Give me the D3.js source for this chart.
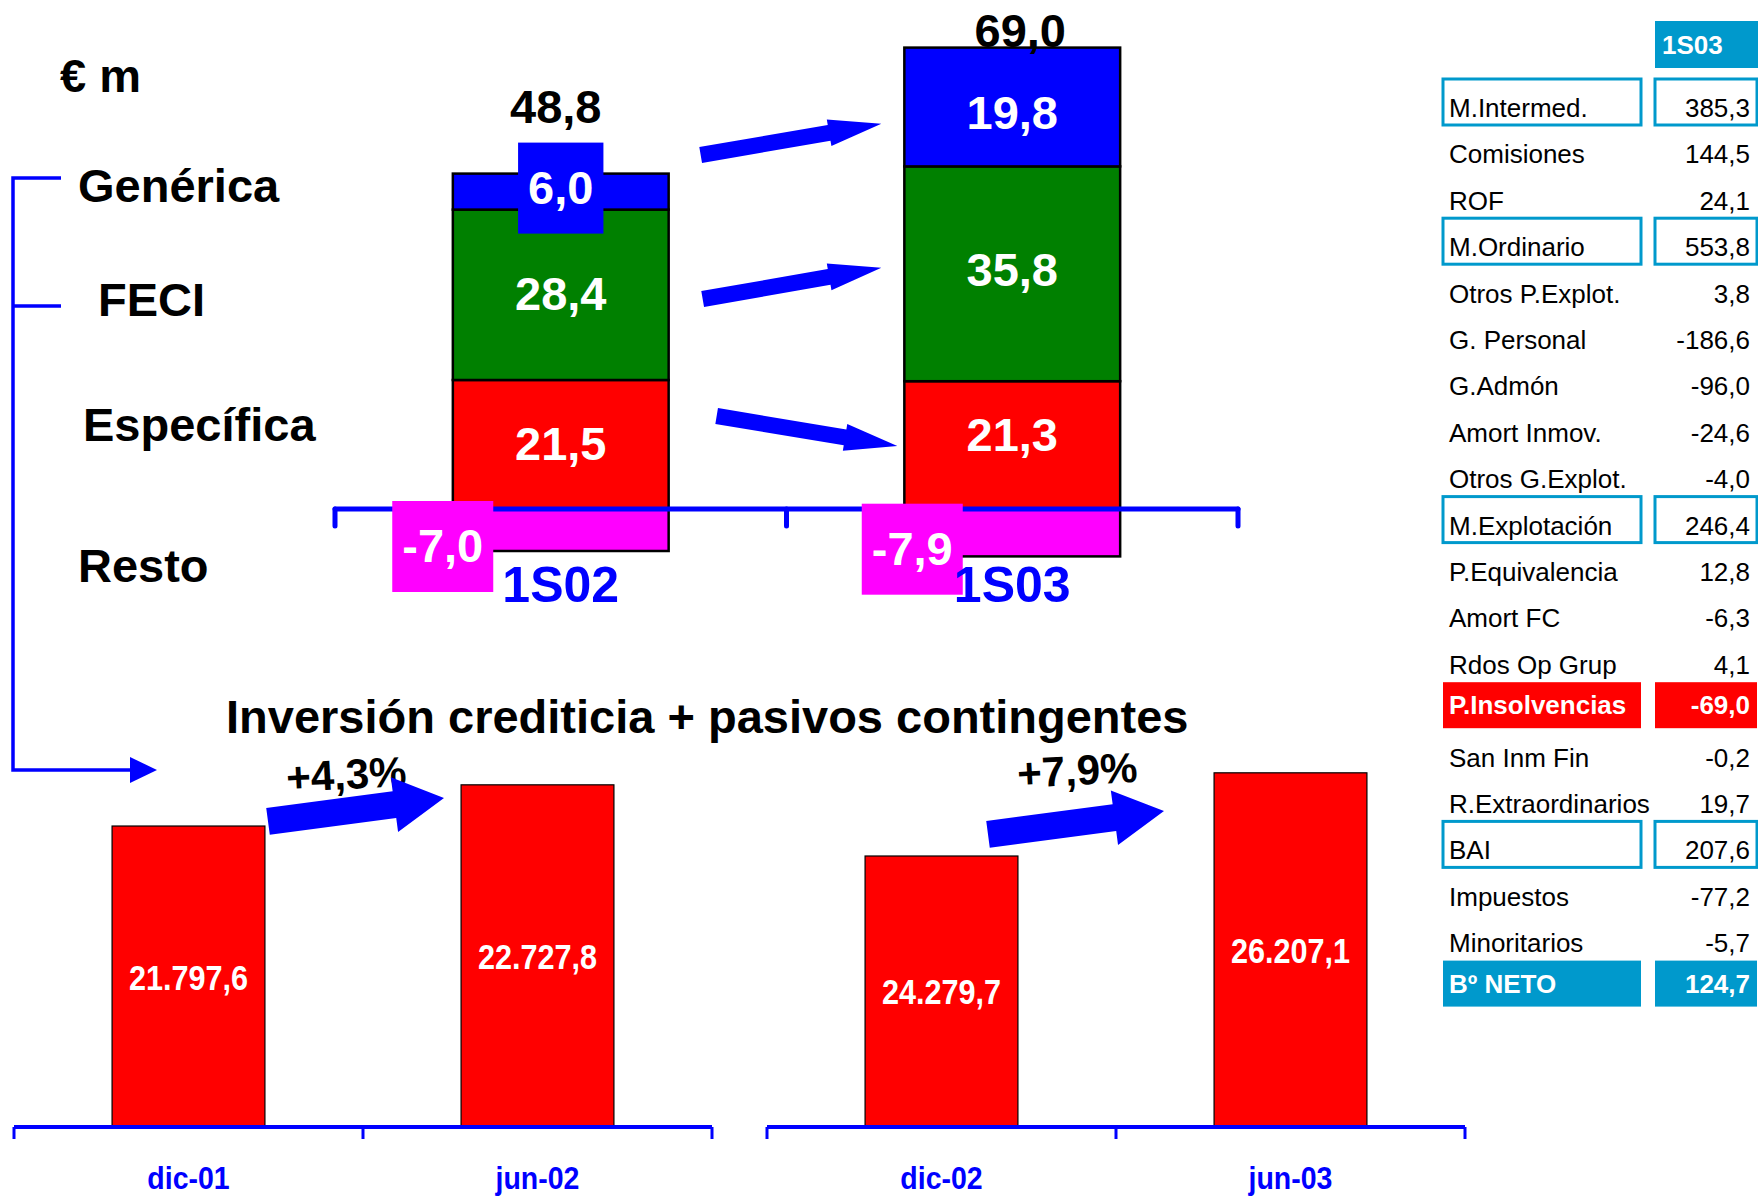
<!DOCTYPE html>
<html>
<head>
<meta charset="utf-8">
<script src="https://cdn.jsdelivr.net/npm/d3@7"></script>
<style>
  body { margin: 0; background: #fff; }
  svg { display: block; font-family: 'Liberation Sans', Arial, sans-serif; }
</style>
</head>
<body>
<script>
// provisiones por insolvencias, stacked by type
const periods = ['1S02', '1S03']
const generica = [6.0, 19.8]
const feci = [28.4, 35.8]
const especifica = [21.5, 21.3]
const resto = [-7.0, -7.9]
const totals = [48.8, 69.0]

// inversion crediticia + pasivos contingentes
const loanDatesA = ['dic-01', 'jun-02']
const loanValuesA = [21797.6, 22727.8]
const loanGrowthA = 4.3
const loanDatesB = ['dic-02', 'jun-03']
const loanValuesB = [24279.7, 26207.1]
const loanGrowthB = 7.9

// cuenta de resultados
const tableHeader = '1S03'
const tableLabels = ['M.Intermed.', 'Comisiones', 'ROF', 'M.Ordinario', 'Otros P.Explot.',
  'G. Personal', 'G.Admón', 'Amort Inmov.', 'Otros G.Explot.', 'M.Explotación',
  'P.Equivalencia', 'Amort FC', 'Rdos Op Grup', 'P.Insolvencias', 'San Inm Fin',
  'R.Extraordinarios', 'BAI', 'Impuestos', 'Minoritarios', 'Bº NETO']
const tableValues = [385.3, 144.5, 24.1, 553.8, 3.8, -186.6, -96.0, -24.6, -4.0, 246.4,
  12.8, -6.3, 4.1, -69.0, -0.2, 19.7, 207.6, -77.2, -5.7, 124.7]
const subtotalRows = ['M.Intermed.', 'M.Ordinario', 'M.Explotación', 'BAI']
const provisionRow = 'P.Insolvencias'
const resultRow = 'Bº NETO'

const width = 1758
const height = 1196

const blue = '#0000FF'
const teal = '#0099CC'
const colors = {
  'Específica': '#FF0000',
  'FECI': '#008000',
  'Genérica': '#0000FF',
  'Resto': '#FF00FF'
}

const es = d3.formatLocale({ decimal: ',', thousands: '.', grouping: [3], currency: ['', ''], minus: '-' })
const fmt = es.format(',.1f')
const fmtGrowth = v => es.format('+.1f')(v) + '%'

const svg = d3
  .select('body')
  .append('svg')
  .attr('width', width)
  .attr('height', height)

// ---------- top chart: stacked provisions ----------
const keys = ['Específica', 'FECI', 'Genérica', 'Resto']
const rows = periods.map((p, i) => ({
  period: p,
  'Específica': especifica[i],
  'FECI': feci[i],
  'Genérica': generica[i],
  'Resto': resto[i]
}))
const stacked = d3.stack().keys(keys).offset(d3.stackOffsetDiverging)(rows)

const xTop = d3.scaleBand().domain(periods).range([335, 1238])
const barW = xTop.bandwidth() * 0.478
const barX = p => xTop(p) + (xTop.bandwidth() - barW) / 2
const yTop = d3.scaleLinear().domain([-10, 75]).range([569, 59])

const provG = svg.append('g').attr('class', 'provisions')

stacked.forEach(layer => {
  provG
    .selectAll('.seg-' + layer.index)
    .data(layer)
    .enter()
    .append('rect')
    .attr('class', 'seg-' + layer.index)
    .attr('x', d => barX(d.data.period))
    .attr('y', d => yTop(Math.max(d[0], d[1])))
    .attr('width', barW)
    .attr('height', d => Math.abs(yTop(d[0]) - yTop(d[1])))
    .attr('fill', colors[layer.key])
    .attr('stroke', '#000')
    .attr('stroke-width', 2.5)
})

// axis with ticks on the band edges
const edgesTop = periods.map(p => xTop(p)).concat(xTop.range()[1])
provG
  .append('line')
  .attr('x1', xTop.range()[0])
  .attr('x2', xTop.range()[1])
  .attr('y1', yTop(0))
  .attr('y2', yTop(0))
  .attr('stroke', blue)
  .attr('stroke-width', 5)
  .attr('stroke-linecap', 'round')
provG
  .selectAll('.tick-top')
  .data(edgesTop)
  .enter()
  .append('line')
  .attr('class', 'tick-top')
  .attr('x1', d => d)
  .attr('x2', d => d)
  .attr('y1', yTop(0))
  .attr('y2', yTop(0) + 17)
  .attr('stroke', blue)
  .attr('stroke-width', 5)
  .attr('stroke-linecap', 'round')

// arrows between the two bars (tail / tip in data units)
function arrowPoints(x0, y0, x1, y1, shaft, head, headLen) {
  const dx = x1 - x0
  const dy = y1 - y0
  const len = Math.hypot(dx, dy)
  const ux = dx / len
  const uy = dy / len
  const nx = -uy
  const ny = ux
  const bx = x1 - ux * headLen
  const by = y1 - uy * headLen
  return [
    [x0 + nx * shaft / 2, y0 + ny * shaft / 2],
    [bx + nx * shaft / 2, by + ny * shaft / 2],
    [bx + nx * head / 2, by + ny * head / 2],
    [x1, y1],
    [bx - nx * head / 2, by - ny * head / 2],
    [bx - nx * shaft / 2, by - ny * shaft / 2],
    [x0 - nx * shaft / 2, y0 - ny * shaft / 2]
  ]
}

const flowArrows = [
  { from: 59.0, to: 64.2, gapL: 32, gapR: 23 },
  { from: 35.0, to: 40.2, gapL: 34, gapR: 23 },
  { from: 15.5, to: 10.5, gapL: 48, gapR: 7 }
]
provG
  .selectAll('.flow')
  .data(flowArrows)
  .enter()
  .append('polygon')
  .attr('class', 'flow')
  .attr('fill', blue)
  .attr('points', d => arrowPoints(
    barX(periods[0]) + barW + d.gapL, yTop(d.from),
    barX(periods[1]) - d.gapR, yTop(d.to),
    16, 27, 53).join(' '))

// segment labels with coloured boxes
const negShift = { '1S02': -118, '1S03': -100 }
const labelNudge = { 'Genérica|1S02': -3, 'Genérica|1S03': 7, 'FECI|1S03': -3, 'Específica|1S03': -9 }
const labelData = []
stacked.forEach(layer => {
  layer.forEach(d => {
    const v = d.data[layer.key]
    const mid = (yTop(d[0]) + yTop(d[1])) / 2
    const nudge = labelNudge[layer.key + '|' + d.data.period] || 0
    labelData.push({
      key: layer.key,
      value: v,
      x: barX(d.data.period) + barW / 2 + (v < 0 ? negShift[d.data.period] : 0),
      y: mid + (v < 0 ? 32 : 15) + nudge
    })
  })
})

const segLabels = provG
  .selectAll('.seg-label')
  .data(labelData)
  .enter()
  .append('g')
  .attr('class', 'seg-label')

segLabels
  .append('text')
  .attr('x', d => d.x)
  .attr('y', d => d.y)
  .attr('text-anchor', 'middle')
  .attr('font-size', 47)
  .attr('font-weight', 'bold')
  .attr('fill', '#fff')
  .text(d => fmt(d.value))

segLabels.each(function (d) {
  const g = d3.select(this)
  const w = g.select('text').node().getComputedTextLength() + 20
  g.insert('rect', 'text')
    .attr('x', d.x - w / 2)
    .attr('y', d.y - 15.5 - 45.5)
    .attr('width', w)
    .attr('height', 91)
    .attr('fill', colors[d.key])
})

// totals above the bars
const totalDy = { '1S02': -51, '1S03': -1 }
const totalDx = { '1S02': -5, '1S03': 8 }
provG
  .selectAll('.total')
  .data(periods)
  .enter()
  .append('text')
  .attr('class', 'total')
  .attr('x', p => barX(p) + barW / 2 + totalDx[p])
  .attr('y', (p, i) => yTop(d3.sum(stacked.slice(0, 3), l => l[i][1] - l[i][0])) + totalDy[p])
  .attr('text-anchor', 'middle')
  .attr('font-size', 47)
  .attr('font-weight', 'bold')
  .attr('fill', '#000')
  .text((p, i) => fmt(totals[i]))

provG
  .selectAll('.period')
  .data(periods)
  .enter()
  .append('text')
  .attr('class', 'period')
  .attr('x', p => xTop(p) + xTop.bandwidth() / 2)
  .attr('y', 602)
  .attr('text-anchor', 'middle')
  .attr('font-size', 50)
  .attr('font-weight', 'bold')
  .attr('fill', blue)
  .text(p => p)

// ---------- left labels and bracket ----------
svg
  .append('text')
  .attr('x', 60)
  .attr('y', 92)
  .attr('font-size', 47)
  .attr('font-weight', 'bold')
  .text('€ m')

const seriesLabels = [
  { name: 'Genérica', x: 78, y: 202 },
  { name: 'FECI', x: 98, y: 316 },
  { name: 'Específica', x: 83, y: 441 },
  { name: 'Resto', x: 78, y: 582 }
]
svg
  .selectAll('.series-label')
  .data(seriesLabels)
  .enter()
  .append('text')
  .attr('class', 'series-label')
  .attr('x', d => d.x)
  .attr('y', d => d.y)
  .attr('font-size', 47)
  .attr('font-weight', 'bold')
  .text(d => d.name)

svg
  .append('path')
  .attr('d', 'M61,178 H13 V770 H132 M13,306 H61')
  .attr('fill', 'none')
  .attr('stroke', blue)
  .attr('stroke-width', 3.5)
svg
  .append('polygon')
  .attr('points', '130,757 157,770 130,783')
  .attr('fill', blue)

// ---------- bottom charts: loans ----------
svg
  .append('text')
  .attr('x', 226)
  .attr('y', 733)
  .attr('font-size', 47)
  .attr('font-weight', 'bold')
  .text('Inversión crediticia + pasivos contingentes')

const base = 1127
const panels = [
  { dates: loanDatesA, values: loanValuesA, growth: loanGrowthA, domain: [15000, 24000],
    range: [14, 712], plotH: 398.5, tail: 254, tip: 430, arrowY: [21900, 22430], textX: 333, textY: 789 },
  { dates: loanDatesB, values: loanValuesB, growth: loanGrowthB, domain: [18000, 27000],
    range: [767, 1465], plotH: 388.4, tail: 221, tip: 397, arrowY: [24780, 25320], textX: 311, textY: 785 }
]

panels.forEach((panel, k) => {
  const x = d3.scaleBand().domain(panel.dates).range(panel.range)
  const bw = x.bandwidth() * 0.438
  const y = d3.scaleLinear().domain(panel.domain).range([base, base - panel.plotH])
  const pts = panel.dates.map((d, i) => ({ date: d, value: panel.values[i] }))
  const g = svg.append('g').attr('class', 'loans-' + k)

  g.selectAll('.bar')
    .data(pts)
    .enter()
    .append('rect')
    .attr('class', 'bar')
    .attr('x', d => x(d.date) + (x.bandwidth() - bw) / 2)
    .attr('y', d => y(d.value))
    .attr('width', bw)
    .attr('height', d => base - y(d.value))
    .attr('fill', '#FF0000')
    .attr('stroke', '#000')
    .attr('stroke-width', 1.2)

  g.selectAll('.bar-label')
    .data(pts)
    .enter()
    .append('text')
    .attr('class', 'bar-label')
    .attr('transform', d => 'translate(' + (x(d.date) + x.bandwidth() / 2) + ',' + ((y(d.value) + base) / 2 + 13) + ') scale(0.875,1)')
    .attr('text-anchor', 'middle')
    .attr('font-size', 35)
    .attr('font-weight', 'bold')
    .attr('fill', '#fff')
    .text(d => fmt(d.value))

  const edges = panel.dates.map(d => x(d)).concat(panel.range[1])
  g.append('line')
    .attr('x1', panel.range[0])
    .attr('x2', panel.range[1])
    .attr('y1', base)
    .attr('y2', base)
    .attr('stroke', blue)
    .attr('stroke-width', 4)
  g.selectAll('.tick')
    .data(edges)
    .enter()
    .append('line')
    .attr('class', 'tick')
    .attr('x1', d => d)
    .attr('x2', d => d)
    .attr('y1', base)
    .attr('y2', base + 12)
    .attr('stroke', blue)
    .attr('stroke-width', 3)

  g.selectAll('.date')
    .data(pts)
    .enter()
    .append('text')
    .attr('class', 'date')
    .attr('transform', d => 'translate(' + (x(d.date) + x.bandwidth() / 2) + ',1189) scale(0.89,1)')
    .attr('text-anchor', 'middle')
    .attr('font-size', 32)
    .attr('font-weight', 'bold')
    .attr('fill', blue)
    .text(d => d.date)

  g.append('text')
    .attr('transform', 'translate(' + (panel.range[0] + panel.textX) + ',' + panel.textY + ') rotate(-3)')
    .attr('text-anchor', 'middle')
    .attr('font-size', 42)
    .attr('font-weight', 'bold')
    .attr('fill', '#000')
    .text(fmtGrowth(panel.growth))

  g.append('polygon')
    .attr('fill', blue)
    .attr('points', arrowPoints(
      panel.range[0] + panel.tail, y(panel.arrowY[0]),
      panel.range[0] + panel.tip, y(panel.arrowY[1]),
      27, 55, 50).join(' '))
})

// ---------- results table ----------
const labelX0 = 1443
const labelX1 = 1641
const valueX0 = 1655
const valueX1 = 1757
const rowY = d3.scaleLinear().domain([0, tableLabels.length - 1]).range([117, 998.6])
const tableRows = tableLabels.map((name, i) => ({ name: name, value: tableValues[i], i: i }))

const table = svg.append('g').attr('class', 'table')

table
  .append('rect')
  .attr('x', valueX0)
  .attr('y', 21)
  .attr('width', valueX1 - valueX0 + 1)
  .attr('height', 47)
  .attr('fill', teal)
table
  .append('text')
  .attr('x', 1662)
  .attr('y', 54)
  .attr('font-size', 26)
  .attr('font-weight', 'bold')
  .attr('fill', '#fff')
  .text(tableHeader)

const kind = d => {
  if (subtotalRows.includes(d.name)) return 'box'
  if (d.name === provisionRow) return 'red'
  if (d.name === resultRow) return 'result'
  return 'plain'
}
const boxFill = { red: '#FF0000', result: teal }
const filled = d => kind(d) === 'red' || kind(d) === 'result'

const row = table
  .selectAll('.row')
  .data(tableRows)
  .enter()
  .append('g')
  .attr('class', 'row')

row
  .filter(d => kind(d) !== 'plain')
  .selectAll('rect')
  .data(d => [[labelX0, labelX1, d], [valueX0, valueX1, d]])
  .enter()
  .append('rect')
  .attr('x', c => c[0])
  .attr('y', c => rowY(c[2].i) - 38)
  .attr('width', c => c[1] - c[0])
  .attr('height', 46)
  .attr('fill', c => kind(c[2]) === 'box' ? 'none' : boxFill[kind(c[2])])
  .attr('stroke', c => kind(c[2]) === 'box' ? teal : 'none')
  .attr('stroke-width', 3)

row
  .append('text')
  .attr('x', 1449)
  .attr('y', d => rowY(d.i) - (filled(d) ? 6 : 0))
  .attr('font-size', 26)
  .attr('font-weight', d => filled(d) ? 'bold' : 'normal')
  .attr('fill', d => filled(d) ? '#fff' : '#000')
  .text(d => d.name)

row
  .append('text')
  .attr('x', 1750)
  .attr('y', d => rowY(d.i) - (filled(d) ? 6 : 0))
  .attr('text-anchor', 'end')
  .attr('font-size', 26)
  .attr('font-weight', d => filled(d) ? 'bold' : 'normal')
  .attr('fill', d => filled(d) ? '#fff' : '#000')
  .text(d => fmt(d.value))
</script>
</body>
</html>
